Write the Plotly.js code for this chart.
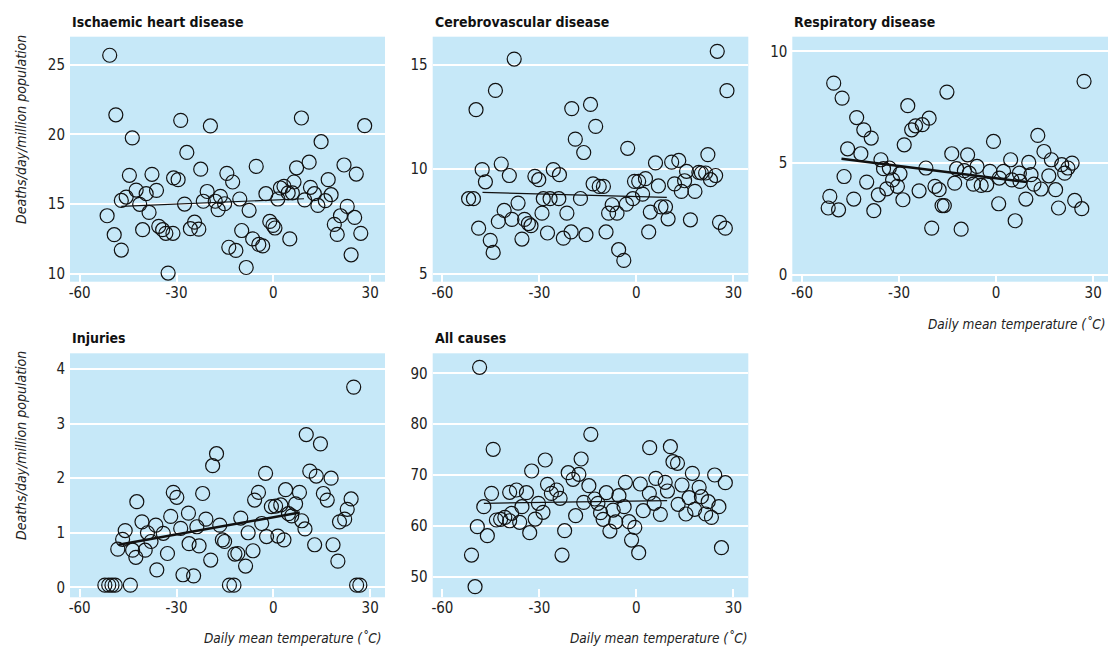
<!DOCTYPE html>
<html>
<head>
<meta charset="utf-8">
<script src="https://cdn.plot.ly/plotly-3.0.1.min.js"></script>
<style>html,body{margin:0;padding:0;background:#fff;}#chart{width:1108px;height:649px;}</style>
</head>
<body>
<div id="chart"></div>
<script>
// ---- Data ----
const panelTitles = ["Ischaemic heart disease", "Cerebrovascular disease", "Respiratory disease", "Injuries", "All causes"];
const xTickVals = [-60, -30, 0, 30];
const xTickText = ["-60", "-30", "0", "30"];
const yAxisTitle = "Deaths/day/million population";
const xAxisTitle = "Daily mean temperature (˚C)";

const ihdTemp = [-50.7,-48.8,-51.5,-49.3,-47.1,-47.1,-45.6,-44.6,-43.7,-42.5,-41.4,-40.5,-39.4,-38.5,-37.6,-36.2,-35.5,-34.3,-33.3,-32.6,-31.1,-30.9,-29.5,-28.7,-27.5,-26.8,-25.7,-24.4,-23.1,-22.5,-21.7,-20.5,-19.5,-18.0,-17.1,-16.4,-15.1,-14.4,-13.8,-12.6,-11.6,-10.4,-9.8,-8.4,-7.5,-6.4,-5.3,-4.5,-3.3,-2.3,-1.1,-0.1,0.5,1.4,2.2,3.3,4.6,5.1,6.4,7.2,5.9,8.7,9.7,11.1,11.5,12.7,13.8,14.8,16.1,17.0,17.9,18.9,19.8,20.8,21.9,22.9,24.1,25.2,25.7,27.1,28.3];
const ihdRate = [25.67,21.4,14.16,12.8,11.7,15.26,15.5,17.06,19.74,16.0,14.98,13.16,15.74,14.4,17.13,15.98,13.4,13.16,12.9,10.05,12.9,16.87,16.75,21.0,15.0,18.7,13.23,13.7,13.2,17.5,15.2,15.9,20.6,15.2,14.6,15.55,15.02,17.2,11.9,16.58,11.67,15.36,13.1,10.45,14.55,12.5,17.7,12.1,12.0,15.74,13.75,13.47,13.28,15.36,16.15,16.27,15.8,12.5,16.58,17.6,15.8,21.17,15.3,18.0,16.2,15.74,14.9,19.47,15.24,16.75,15.67,13.54,12.82,14.16,17.8,14.83,11.36,14.04,17.15,12.9,20.62];
const ihdTrendT = [-47.1, 9.5];
const ihdTrendV = [14.83, 15.38];

const cbdTemp = [-51.9,-50.4,-49.6,-48.8,-47.7,-46.7,-45.2,-44.3,-43.6,-42.7,-41.8,-40.9,-39.3,-38.5,-37.8,-36.6,-35.4,-34.6,-33.4,-32.6,-31.4,-30.2,-29.2,-28.8,-27.5,-26.7,-25.7,-24.0,-23.8,-22.6,-21.5,-20.2,-20.0,-18.9,-17.3,-16.3,-15.6,-14.2,-13.4,-12.6,-11.5,-10.2,-9.4,-8.6,-7.5,-6.0,-5.5,-3.9,-3.1,-2.7,-1.1,-0.6,0.7,1.9,2.8,3.8,4.3,5.9,6.8,7.6,9.0,9.8,10.9,11.8,13.1,13.9,14.9,15.5,16.7,18.1,19.3,20.1,21.4,22.1,22.9,24.5,25.0,25.7,27.5,28.0];
const cbdRate = [8.59,8.59,12.85,7.18,9.98,9.4,6.6,6.02,13.77,7.5,10.25,8.03,9.7,7.6,15.27,8.38,6.66,7.6,7.4,7.3,9.66,9.5,7.9,8.59,6.95,8.59,9.98,8.59,9.74,6.7,7.9,7.0,12.9,11.44,8.6,10.8,6.87,13.1,9.3,12.05,9.18,9.18,7.0,7.9,8.3,7.9,6.15,5.64,8.33,11.0,8.59,9.42,9.42,8.81,9.55,7.0,7.95,10.3,9.2,8.2,8.2,7.63,10.34,9.3,10.42,8.94,9.45,9.9,7.58,8.94,9.85,9.82,9.82,10.7,9.5,9.7,15.64,7.46,7.18,13.76];
const cbdTrendT = [-47.6, 9.4];
const cbdTrendV = [8.89, 8.65];

const respTemp = [-51.9,-51.4,-50.2,-48.7,-47.6,-47.0,-45.9,-44.0,-43.1,-41.8,-40.9,-40.0,-38.6,-37.8,-36.4,-35.6,-34.8,-33.8,-33.0,-32.0,-30.5,-29.7,-28.8,-28.4,-27.3,-26.1,-24.9,-23.8,-22.8,-21.7,-20.7,-19.9,-18.9,-17.6,-16.7,-16.0,-15.2,-13.7,-12.8,-12.2,-10.8,-9.8,-8.8,-8.3,-7.0,-5.9,-4.6,-2.9,-1.9,-0.8,0.8,1.0,2.3,4.5,4.9,5.9,7.2,7.4,9.2,10.1,10.8,11.7,12.9,13.9,14.8,16.3,17.1,18.4,19.3,20.3,21.2,22.2,23.5,24.3,26.5,27.2];
const respRate = [2.99,3.51,8.58,2.91,7.91,4.4,5.64,3.39,7.04,5.42,6.49,4.15,6.12,2.87,3.58,5.15,4.75,3.85,4.78,4.25,3.96,4.52,3.36,5.82,7.57,6.49,6.67,3.76,6.72,4.78,7.01,2.09,3.96,3.81,3.1,3.1,8.18,5.42,4.1,4.75,2.04,4.66,5.37,4.55,4.06,4.85,4.0,4.03,4.63,5.97,3.18,4.33,4.63,5.15,4.25,2.42,4.55,4.18,3.39,5.03,4.48,4.06,6.24,3.84,5.52,4.43,5.15,3.81,2.99,4.93,4.55,4.78,5.0,3.33,2.96,8.66];
const respTrendT = [-47.8, 9.5];
const respTrendV = [5.19, 4.15];

const injTemp = [-52.2,-51.0,-50.0,-49.0,-48.2,-46.7,-45.9,-44.3,-43.6,-42.6,-42.3,-40.7,-39.7,-39.0,-37.9,-36.4,-36.1,-34.1,-32.8,-31.8,-31.0,-29.9,-28.7,-28.0,-26.3,-26.1,-24.7,-23.7,-23.0,-21.9,-20.9,-19.4,-18.8,-17.6,-16.6,-15.8,-15.1,-13.6,-12.2,-11.9,-11.0,-10.1,-8.6,-7.8,-6.3,-5.8,-4.6,-3.6,-2.4,-2.1,-0.6,0.7,1.4,2.3,3.3,3.8,4.7,5.7,6.9,8.1,8.8,9.8,10.2,11.3,12.8,13.3,14.6,15.5,16.7,17.9,18.5,20.0,20.5,22.1,22.9,24.1,24.9,25.8,26.8];
const injRate = [0.04,0.04,0.04,0.04,0.70,0.88,1.04,0.04,0.68,0.55,1.57,1.2,0.68,1.0,0.84,1.14,0.32,0.99,0.62,1.3,1.74,1.65,1.08,0.23,1.36,0.8,0.21,1.11,0.76,1.72,1.25,0.5,2.23,2.45,1.14,0.87,0.84,0.04,0.04,0.61,0.62,1.27,0.39,1.0,0.67,1.6,1.74,1.17,2.09,0.93,1.48,1.49,0.94,1.51,0.87,1.79,1.35,1.31,1.53,1.74,1.22,1.07,2.8,2.13,0.78,2.04,2.63,1.72,1.6,2.0,0.78,0.48,1.2,1.25,1.43,1.62,3.67,0.04,0.04];
const injTrendT = [-48.0, 8.2];
const injTrendV = [0.78, 1.37];

const allTemp = [-51.0,-49.9,-49.2,-48.5,-47.2,-46.1,-44.8,-44.3,-43.3,-42.0,-40.7,-39.2,-39.2,-38.6,-37.1,-36.1,-35.4,-34.0,-33.0,-32.4,-31.3,-30.3,-28.9,-28.2,-27.5,-26.3,-24.7,-23.6,-23.0,-22.2,-21.1,-19.6,-18.8,-17.8,-17.1,-16.3,-14.7,-14.1,-12.9,-11.9,-11.1,-10.3,-9.3,-8.2,-7.2,-6.4,-5.4,-3.8,-3.4,-2.3,-1.5,-0.5,0.7,1.2,2.1,4.0,4.1,5.5,6.0,7.4,8.9,9.6,10.5,11.3,12.7,12.9,14.1,15.3,16.3,17.3,18.0,19.4,20.1,21.4,22.2,23.2,24.2,25.5,26.3,27.5];
const allRate = [54.26,48.03,59.84,91.18,63.77,58.07,66.39,75.05,61.15,61.28,61.67,61.0,66.6,62.46,67.05,60.69,63.77,66.52,58.66,70.79,61.34,64.43,62.66,72.95,68.16,66.39,67.05,65.41,54.26,59.05,70.46,69.15,62.0,70.13,73.15,64.62,67.9,78.0,65.28,64.43,62.59,61.28,66.52,58.98,63.1,60.8,65.93,63.77,68.56,60.82,57.21,59.7,54.72,68.23,62.98,66.39,75.38,64.43,69.34,62.26,68.56,66.85,75.57,72.62,72.3,64.23,68.03,62.33,65.54,70.33,63.25,67.57,65.74,62.33,64.75,61.67,70.0,63.77,55.7,68.49];
const allTrendT = [-47.2, 9.5];
const allTrendV = [64.43, 64.95];

// ---- Build chart ----
const W = 1108, H = 649;
const FONT = '"Liberation Sans Narrow", "Arial Narrow", "DejaVu Sans Condensed", sans-serif';
const BG = '#c6e8f8';
const px = v => v / W;
const py = v => 1 - v / H;

const panels = [
  {t: ihdTemp, v: ihdRate, tt: ihdTrendT, tv: ihdTrendV, lw: 1.2, yr: [9.43, 27.0], dt: 5, xd: [70, 385], yd: [36.7, 281.7]},
  {t: cbdTemp, v: cbdRate, tt: cbdTrendT, tv: cbdTrendV, lw: 1.2, yr: [4.62, 16.34], dt: 5, xd: [432.7, 748.3], yd: [36.7, 281.7]},
  {t: respTemp, v: respRate, tt: respTrendT, tv: respTrendV, lw: 2.5, yr: [-0.31, 10.66], dt: 5, xd: [792.3, 1108], yd: [36.7, 281.7]},
  {t: injTemp, v: injRate, tt: injTrendT, tv: injTrendV, lw: 2.5, yr: [-0.183, 4.29], dt: 1, xd: [70, 385], yd: [353.3, 597.3]},
  {t: allTemp, v: allRate, tt: allTrendT, tv: allTrendV, lw: 1.2, yr: [45.95, 93.93], dt: 10, xd: [432.7, 748.3], yd: [353.3, 597.3]}
];

const data = [];
const layout = {
  width: W, height: H,
  margin: {l: 0, r: 0, t: 0, b: 0},
  paper_bgcolor: '#ffffff',
  plot_bgcolor: BG,
  showlegend: false,
  font: {family: FONT, size: 15, color: '#222'},
  annotations: []
};

panels.forEach((p, i) => {
  const n = i + 1;
  const xa = 'x' + (n === 1 ? '' : n), ya = 'y' + (n === 1 ? '' : n);
  data.push({
    type: 'scatter', mode: 'markers', x: p.t, y: p.v, xaxis: xa, yaxis: ya,
    marker: {symbol: 'circle', size: 14, color: 'rgba(0,0,0,0)', line: {color: '#111', width: 1.2}},
    hoverinfo: 'x+y', cliponaxis: false
  });
  data.push({
    type: 'scatter', mode: 'lines', x: p.tt, y: p.tv, xaxis: xa, yaxis: ya,
    line: {color: '#111', width: p.lw}, hoverinfo: 'skip'
  });
  const xk = 'xaxis' + (n === 1 ? '' : n), yk = 'yaxis' + (n === 1 ? '' : n);
  layout[xk] = {
    domain: [px(p.xd[0]), px(p.xd[1])], anchor: ya, range: [-63, 34.6],
    tickmode: 'array', tickvals: xTickVals, ticktext: xTickText,
    ticks: 'inside', ticklen: 8, tickwidth: 2, tickcolor: '#ffffff',
    showgrid: false, zeroline: false, showline: false, fixedrange: true,
    tickfont: {family: FONT, size: 15, color: '#222'}
  };
  layout[yk] = {
    domain: [py(p.yd[1]), py(p.yd[0])], anchor: xa, range: p.yr,
    dtick: p.dt, tick0: 0, ticks: '', showgrid: true, gridcolor: '#ffffff', gridwidth: 2,
    zeroline: false, showline: false, fixedrange: true, ticklabelstandoff: 4,
    tickfont: {family: FONT, size: 15, color: '#222'}
  };
  layout.annotations.push({
    text: '<b>' + panelTitles[i] + '</b>', xref: 'paper', yref: 'paper',
    x: px(p.xd[0]), y: py(p.yd[0] - 15), xanchor: 'left', yanchor: 'middle',
    showarrow: false, font: {family: FONT, size: 14, color: '#111'}
  });
});

// y axis titles (left column)
[130, 446].forEach(yc => {
  layout.annotations.push({
    text: '<i>' + yAxisTitle + '</i>', xref: 'paper', yref: 'paper',
    x: px(21), y: py(yc), xanchor: 'center', yanchor: 'middle', textangle: -90,
    showarrow: false, font: {family: FONT, size: 14, color: '#222'}
  });
});
// x axis titles
[[1107, 324], [383, 638], [749, 638]].forEach(([xr, yc]) => {
  layout.annotations.push({
    text: '<i>' + xAxisTitle + '</i>', xref: 'paper', yref: 'paper',
    x: px(xr), y: py(yc), xanchor: 'right', yanchor: 'middle',
    showarrow: false, font: {family: FONT, size: 13.5, color: '#222'}
  });
});

Plotly.newPlot('chart', data, layout, {displayModeBar: false});
</script>
</body>
</html>
